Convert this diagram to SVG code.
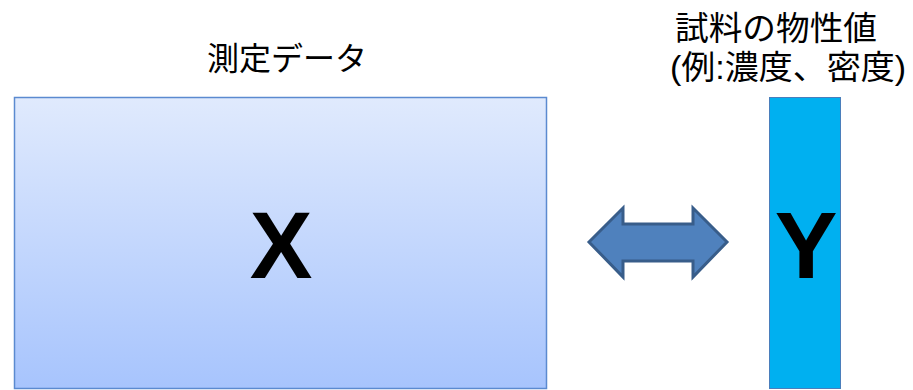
<svg xmlns="http://www.w3.org/2000/svg" width="913" height="390" viewBox="0 0 913 390">
<defs>
<linearGradient id="g" x1="0" y1="0" x2="0" y2="1">
<stop offset="0" stop-color="#e0eafd"/>
<stop offset="1" stop-color="#a7c4fd"/>
</linearGradient>
<style>
.lbl{font-family:"Liberation Sans","Noto Sans CJK JP",sans-serif;font-size:33px;fill:#000}
.big{font-family:"Liberation Sans",Arial,sans-serif;font-weight:bold;font-size:94px;fill:#000;text-anchor:middle}
</style>
</defs>
<rect width="913" height="390" fill="#fff"/>
<g id="X">
<rect x="14.5" y="97.5" width="532" height="291" fill="url(#g)" stroke="#5b8ad0" stroke-width="1.5"/>
<text class="big" x="281" y="278">X</text>
</g>
<g id="Y">
<rect x="769.5" y="97.5" width="71" height="291" fill="#00b0f0" stroke="#4a7ebb" stroke-width="1"/>
<text class="big" x="806" y="278">Y</text>
</g>
<g id="labels">
<text class="lbl" x="287" y="70" text-anchor="middle" style="font-size:32px">測定データ</text>
<text class="lbl" x="675" y="40" textLength="202" lengthAdjust="spacingAndGlyphs">試料の物性値</text>
<text class="lbl" x="670" y="79" textLength="236" lengthAdjust="spacingAndGlyphs">(例:濃度、密度)</text>
</g>
<g id="connectors">
<path d="M589,242 L623,208 L623,224 L693,224 L693,208 L727,242 L693,277 L693,261 L623,261 L623,277 Z" fill="#4f81bd" stroke="#385d8a" stroke-width="3" stroke-linejoin="miter"/>
</g>
</svg>
